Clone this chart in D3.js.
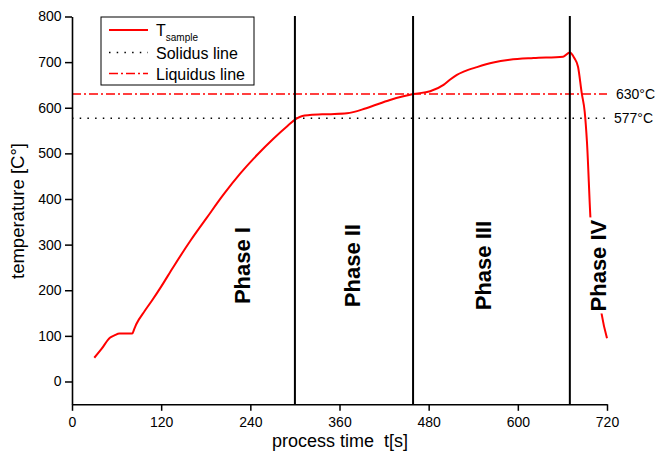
<!DOCTYPE html>
<html>
<head>
<meta charset="utf-8">
<script src="https://cdn.jsdelivr.net/npm/d3@7"></script>
<style>
  body { margin: 0; background: #fff; }
  svg { font-family: Arial, 'Liberation Sans', sans-serif; }
</style>
</head>
<body>
<div class="canvas"></div>
<script>
// measured curve T_sample
const time = [30, 40, 51, 57, 64, 81, 84, 87, 98, 107, 120, 136, 160, 181, 204, 226, 250, 271, 290, 302, 310, 320, 345, 370, 396, 428, 459, 482, 500, 509, 518, 527, 545, 567, 589, 621, 661, 670, 676, 681, 686, 690, 693, 698, 706, 713, 720];
const temp = [52, 72, 96, 101, 105, 105, 116, 127, 155, 176, 208, 250, 310, 358, 410, 455, 498, 532, 560, 576, 582, 584, 586, 588, 599, 617, 630, 636, 650, 662, 672, 679, 689, 699, 705, 709, 712, 721, 709, 690, 632, 591, 526, 350, 235, 146, 95];

const xTicks = [0, 120, 240, 360, 480, 600, 720];
const xMinorTicks = [60, 180, 300, 420, 540, 660];
const yTicks = [0, 100, 200, 300, 400, 500, 600, 700, 800];
const yMinorTicks = [-50, 50, 150, 250, 350, 450, 550, 650, 750];

const phaseTimes = [300, 459, 670];
const phaseNames = ['Phase I', 'Phase II', 'Phase III', 'Phase IV'];
const phaseLabelTimes = [229, 377, 553, 708];
const phaseLabelTemp = 254;

const refTemps = [577, 630];
const refLabels = ['577°C', '630°C'];
const legendNames = ['T', 'Solidus line', 'Liquidus line'];

const width = 659;
const height = 455;
const margin = { top: 16.5, right: 52, bottom: 50.7, left: 72 };
const graphWidth = width - margin.left - margin.right;
const graphHeight = height - margin.top - margin.bottom;

const svg = d3.select('.canvas')
  .append('svg')
  .attr('width', width)
  .attr('height', height);

const graph = svg.append('g')
  .attr('transform', `translate(${margin.left}, ${margin.top})`);

const x = d3.scaleLinear().domain([0, 720]).range([0, graphWidth]);
const y = d3.scaleLinear().domain([-50, 800]).range([graphHeight, 0]);

// reference lines
graph.append('line')
  .attr('x1', x(0)).attr('x2', x(720))
  .attr('y1', y(refTemps[0])).attr('y2', y(refTemps[0]))
  .attr('stroke', '#000').attr('stroke-width', 1.5)
  .attr('stroke-dasharray', '1.5,6.2');
graph.append('line')
  .attr('x1', x(0)).attr('x2', x(720))
  .attr('y1', y(refTemps[1])).attr('y2', y(refTemps[1]))
  .attr('stroke', '#ff0000').attr('stroke-width', 1.5)
  .attr('stroke-dasharray', '9,3,2,3');

graph.selectAll('.ref-label')
  .data(refTemps)
  .enter().append('text')
  .attr('class', 'ref-label')
  .attr('x', (d, i) => x(720) + (i === 0 ? 7 : 9))
  .attr('y', d => y(d))
  .attr('dy', '0.36em')
  .attr('font-size', 14)
  .text((d, i) => refLabels[i]);

// T_sample curve
const data = time.map((t, i) => ({ t, v: temp[i] }));
const line = d3.line().x(d => x(d.t)).y(d => y(d.v)).curve(d3.curveMonotoneX);
graph.append('path')
  .datum(data)
  .attr('fill', 'none')
  .attr('stroke', '#ff0000')
  .attr('stroke-width', 2)
  .attr('d', line);

// phase boundaries
graph.selectAll('.phase-line')
  .data(phaseTimes)
  .enter().append('line')
  .attr('class', 'phase-line')
  .attr('x1', d => x(d)).attr('x2', d => x(d))
  .attr('y1', -0.5).attr('y2', graphHeight)
  .attr('stroke', '#000').attr('stroke-width', 2);

// phase labels (white box hides the curve under Phase IV)
const labels = graph.selectAll('.phase-label')
  .data(phaseNames)
  .enter().append('g')
  .attr('class', 'phase-label')
  .attr('transform', (d, i) => `translate(${x(phaseLabelTimes[i])}, ${y(phaseLabelTemp)}) rotate(-90)`);
labels.append('rect').attr('fill', '#fff');
labels.append('text')
  .attr('text-anchor', 'middle')
  .attr('dy', '0.36em')
  .attr('font-size', 22)
  .attr('font-weight', 'bold')
  .text(d => d);
labels.each(function () {
  const g = d3.select(this);
  const b = g.select('text').node().getBBox();
  g.select('rect')
    .attr('x', b.x - 2).attr('y', b.y + 2)
    .attr('width', b.width + 4).attr('height', b.height - 3);
});

// axes
const xAxisGroup = graph.append('g').attr('transform', `translate(0, ${graphHeight})`);
const yAxisGroup = graph.append('g');

xAxisGroup.call(d3.axisBottom(x).tickValues(xMinorTicks).tickSize(3.5).tickSizeOuter(0).tickFormat(''));
xAxisGroup.call(d3.axisBottom(x).tickValues(xTicks).tickSize(6.5).tickSizeOuter(0).tickPadding(6));
yAxisGroup.call(d3.axisLeft(y).tickValues(yMinorTicks).tickSize(4).tickSizeOuter(0).tickFormat(''));
yAxisGroup.call(d3.axisLeft(y).tickValues(yTicks).tickSize(7).tickSizeOuter(0).tickPadding(3.5));

svg.selectAll('.domain').attr('stroke-width', 1.6);
svg.selectAll('.tick line').attr('stroke-width', 1.5);
svg.selectAll('.tick text')
  .attr('font-size', 14)
  .attr('font-family', "Arial, 'Liberation Sans', sans-serif")
  .attr('fill', '#000');

// axis titles
svg.append('text')
  .attr('x', 340)
  .attr('y', 447)
  .attr('text-anchor', 'middle')
  .attr('font-size', 18)
  .style('white-space', 'pre')
  .text('process time  t[s]');

svg.append('text')
  .attr('transform', 'translate(24, 211) rotate(-90)')
  .attr('text-anchor', 'middle')
  .attr('font-size', 18.5)
  .text('temperature [C°]');

// legend
const legend = svg.append('g');
legend.append('rect')
  .attr('x', 101).attr('y', 17)
  .attr('width', 153).attr('height', 68)
  .attr('fill', '#fff')
  .attr('stroke', '#000')
  .attr('stroke-width', 1);

const legendRows = [30, 52.5, 73.5];
const legendDash = [null, '1.5,6.2', '9,3,2,3'];
const legendColor = ['#ff0000', '#000', '#ff0000'];

legend.selectAll('.legend-line')
  .data(legendNames)
  .enter().append('line')
  .attr('x1', 109).attr('x2', 148)
  .attr('y1', (d, i) => legendRows[i]).attr('y2', (d, i) => legendRows[i])
  .attr('stroke', (d, i) => legendColor[i])
  .attr('stroke-width', (d, i) => i === 0 ? 2 : 1.5)
  .attr('stroke-dasharray', (d, i) => legendDash[i]);

const legendText = legend.selectAll('.legend-text')
  .data(legendNames)
  .enter().append('text')
  .attr('x', 156)
  .attr('y', (d, i) => legendRows[i] + 6)
  .attr('font-size', 16);

legendText.append('tspan').text(d => d);
legendText.filter((d, i) => i === 0)
  .append('tspan')
  .attr('dy', 5)
  .attr('font-size', 10)
  .text('sample');
</script>
</body>
</html>
